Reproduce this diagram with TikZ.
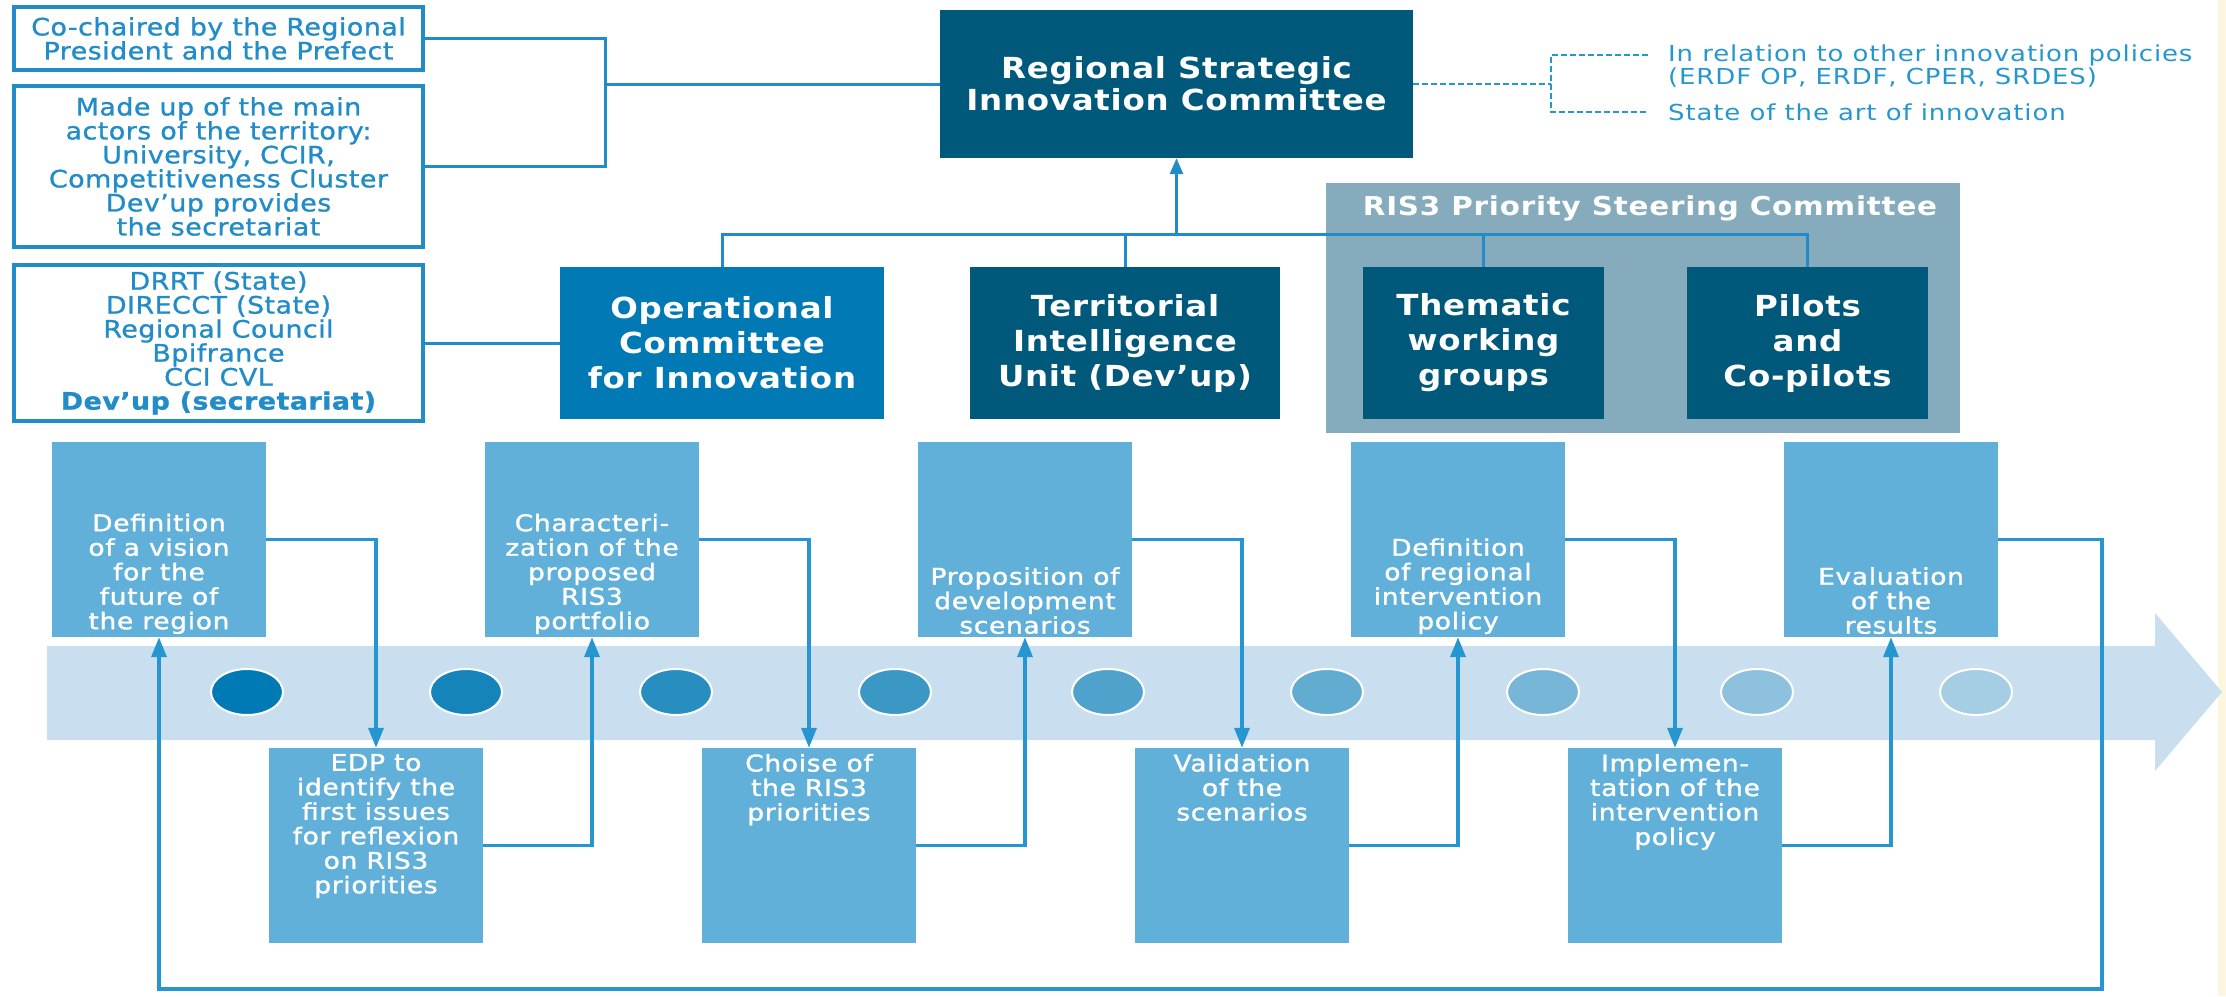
\documentclass[tikz,border=0pt]{standalone}
\usepackage{fontspec}
\setmainfont{DejaVu Sans}[FakeStretch=1.12, LetterSpace=2]
\newfontfamily\medf{DejaVu Sans}[FakeBold=1, FakeStretch=1.12, LetterSpace=2]
\newfontfamily\stf{DejaVu Sans}[FakeBold=1.4, FakeStretch=1.15, LetterSpace=3]
\newfontfamily\hdf{DejaVu Sans}[FakeStretch=1.12, LetterSpace=2.5]
\newfontfamily\gtf{DejaVu Sans}[FakeStretch=1.13, LetterSpace=3]
\newfontfamily\ntf{DejaVu Sans}[FakeStretch=1.18, LetterSpace=4]
\usetikzlibrary{positioning, arrows.meta, shapes.geometric}
\definecolor{tblue}{RGB}{33,140,200}
\definecolor{lblue}{RGB}{38,150,208}
\definecolor{dteal}{RGB}{0,89,122}
\definecolor{opblue}{RGB}{0,121,180}
\definecolor{sgrey}{RGB}{133,171,189}
\definecolor{sblue}{RGB}{96,176,218}
\definecolor{band}{RGB}{201,223,240}
\definecolor{cream}{RGB}{253,246,222}
\definecolor{cA}{RGB}{0,122,180}
\definecolor{cB}{RGB}{165,205,228}

\begin{document}
\begin{tikzpicture}[x=1pt, y=-1pt,
  wb/.style={draw=tblue, line width=3.5pt, fill=white, text=tblue, align=center, font=\medf\fontsize{24}{24}\selectfont, minimum width=409pt, inner sep=0pt},
  db/.style={fill=dteal, text=white, align=center, font=\hdf\bfseries\fontsize{29}{35}\selectfont, minimum height=152pt, inner sep=0pt},
  sb/.style={fill=sblue, minimum width=214pt, minimum height=195pt, inner sep=0pt},
  st/.style={text=white, align=center, font=\stf\fontsize{23}{24.5}\selectfont, inner sep=0pt},
  dot/.style={ellipse, draw=white, line width=2pt, minimum width=72pt, minimum height=46pt},
  ln/.style={draw=tblue, line width=3pt},
  ar/.style={draw=lblue, line width=3.5pt, -{Triangle[length=20pt, width=15pt]}},
  dl/.style={draw=lblue, line width=2.5pt, dash pattern=on 6pt off 3pt},
  nt/.style={text=lblue, align=left, font=\ntf\fontsize{22}{22.5}\selectfont, anchor=west, inner sep=0pt}]
	\useasboundingbox (0,0) rectangle (2226,996);
	\fill[cream] (2218,0) rectangle (2226,996);

	\node[wb, minimum height=63pt] (B1) at (218.5,38.5) {Co-chaired by the Regional\\President and the Prefect};
	\node[wb, minimum height=161pt] (B2) at (218.5,166.5) {Made up of the main\\actors of the territory:\\University, CCIR,\\Competitiveness Cluster\\Dev’up provides\\the secretariat};
	\node[wb, minimum height=156pt] (B3) at (218.5,343) {DRRT (State)\\DIRECCT (State)\\Regional Council\\Bpifrance\\CCI CVL\\\bfseries Dev’up (secretariat)};

	\node[db, minimum width=473pt, minimum height=148pt, font=\hdf\bfseries\fontsize{29}{32}\selectfont] (R) at (1176.5,84) {Regional Strategic\\Innovation Committee};
	\node[nt] (P1) at (1668,66) {In relation to other innovation policies\\(ERDF OP, ERDF, CPER, SRDES)};
	\node[nt] (P2) at (1668,112) {State of the art of innovation};

	\node[fill=sgrey, minimum width=634pt, minimum height=250pt] (G) at (1643,308) {};
	\node[text=white, font=\gtf\bfseries\fontsize{26}{28}\selectfont] (Gt) at (1650,208) {RIS3 Priority Steering Committee};
	\node[db, fill=opblue, minimum width=324pt] (OP) at (722,343) {Operational\\Committee\\for Innovation};
	\node[db, minimum width=310pt] (TI) at (1125,343) {Territorial\\Intelligence\\Unit (Dev’up)};
	\node[db, minimum width=241pt] (TW) at (1483.5,343) {Thematic\\working\\groups};
	\node[db, minimum width=241pt] (PC) at (1807.5,343) {Pilots\\and\\Co-pilots};

	\coordinate (brk) at (605,84);
	\coordinate (bus) at (1176.5,234);
	\coordinate (dv) at (1551,84);
	\draw[ln] (B1.east) -| (brk) |- (B2.east);
	\draw[ln] (brk) -- (R.west);
	\draw[ln] (B3.east) -- (OP.west);
	\draw[ln] (OP.north) |- (bus) -| (PC.north);
	\draw[ln] (TI.north) -- (TI.north |- bus);
	\draw[ln] (TW.north) -- (TW.north |- bus);
	\draw[ln, -{Triangle[length=16pt, width=13pt]}] (bus) -- (R.south);
	\draw[dl] (R.east) -- (dv);
	\draw[dl] ([xshift=-20pt, yshift=11pt]P1.west) -| (dv) |- ([xshift=-20pt]P2.west);

	\fill[band] (47,646) -- (2155,646) -- (2155,613) -- (2222,692) -- (2155,771) -- (2155,740) -- (47,740) -- cycle;
	\node[dot, fill=cA] (e1) at (247,692) {};
	\node[dot, fill=cA!88!cB] (e2) at (466,692) {};
	\node[dot, fill=cA!76!cB] (e3) at (676,692) {};
	\node[dot, fill=cA!64!cB] (e4) at (895,692) {};
	\node[dot, fill=cA!52!cB] (e5) at (1108,692) {};
	\node[dot, fill=cA!40!cB] (e6) at (1327,692) {};
	\node[dot, fill=cA!28!cB] (e7) at (1543,692) {};
	\node[dot, fill=cA!14!cB] (e8) at (1757,692) {};
	\node[dot, fill=cB] (e9) at (1976,692) {};

	\node[sb] (d1) at (159,539.5) {};
	\node[st, above=3pt of d1.south] (t1) {Definition\\of a vision\\for the\\future of\\the region};
	\node[sb] (d2) at (376,845.5) {};
	\node[st, below=6pt of d2.north] (t2) {EDP to\\identify the\\first issues\\for reflexion\\on RIS3\\priorities};
	\node[sb] (d3) at (592,539.5) {};
	\node[st, above=3pt of d3.south] (t3) {Characteri-\\zation of the\\proposed\\RIS3\\portfolio};
	\node[sb] (d4) at (809,845.5) {};
	\node[st, below=6pt of d4.north] (t4) {Choise of\\the RIS3\\priorities};
	\node[sb] (d5) at (1025,539.5) {};
	\node[st, above=3pt of d5.south] (t5) {Proposition of\\development\\scenarios};
	\node[sb] (d6) at (1242,845.5) {};
	\node[st, below=6pt of d6.north] (t6) {Validation\\of the\\scenarios};
	\node[sb] (d7) at (1458,539.5) {};
	\node[st, above=3pt of d7.south] (t7) {Definition\\of regional\\intervention\\policy};
	\node[sb] (d8) at (1675,845.5) {};
	\node[st, below=6pt of d8.north] (t8) {Implemen-\\tation of the\\intervention\\policy};
	\node[sb] (d9) at (1891,539.5) {};
	\node[st, above=3pt of d9.south] (t9) {Evaluation\\of the\\results};

	\coordinate (lp) at (2102,989);
	\draw[ar] (d1.east) -| (d2.north);
	\draw[ar] (d2.east) -| (d3.south);
	\draw[ar] (d3.east) -| (d4.north);
	\draw[ar] (d4.east) -| (d5.south);
	\draw[ar] (d5.east) -| (d6.north);
	\draw[ar] (d6.east) -| (d7.south);
	\draw[ar] (d7.east) -| (d8.north);
	\draw[ar] (d8.east) -| (d9.south);
	\draw[ar] (d9.east) -| (lp) -| (d1.south);
\end{tikzpicture}
\end{document}
